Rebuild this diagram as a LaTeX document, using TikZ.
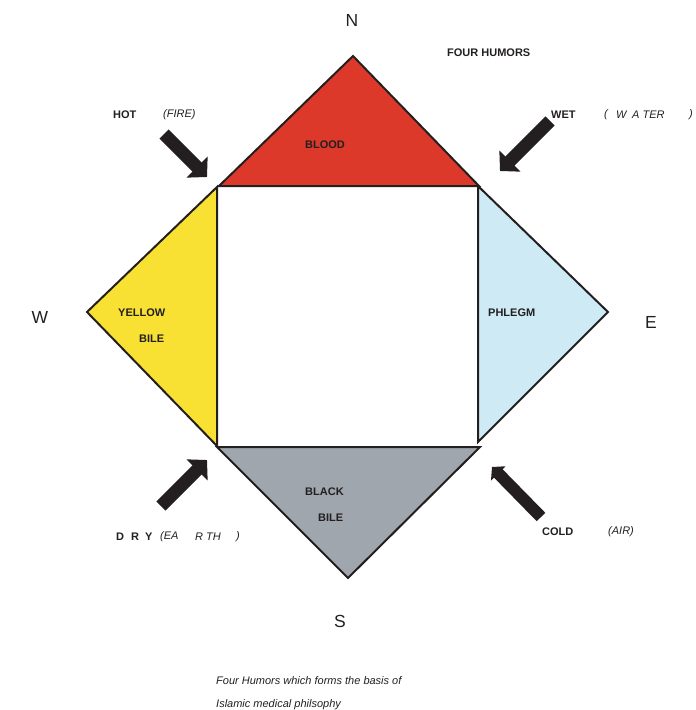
\documentclass[tikz,border=0pt]{standalone}
\usepackage{fontspec}
\setmainfont{Liberation Sans}
\usetikzlibrary{arrows.meta}
\definecolor{ink}{RGB}{35,31,32}
\definecolor{bloodred}{RGB}{221,57,42}
\definecolor{bileyellow}{RGB}{248,225,50}
\definecolor{phlegmblue}{RGB}{205,234,245}
\definecolor{blackgray}{RGB}{160,166,173}
\begin{document}
\begin{tikzpicture}[x={(1pt,0)},y={(0,-1pt)},
  lbl/.style={inner sep=0pt, anchor=west, text=ink, font=\fontsize{11}{13}\selectfont\bfseries},
  itl/.style={inner sep=0pt, anchor=west, text=ink, font=\fontsize{11}{13}\selectfont\itshape},
  compass/.style={inner sep=0pt, text=ink, font=\fontsize{17.5}{20}\selectfont},
  tri/.style={draw=ink, line width=2pt, line join=miter},
  blk/.style={draw=ink, line width=13pt, -{Triangle[length=14pt,width=29pt]}},
  blksmall/.style={draw=ink, line width=12pt, -{Triangle[length=9pt,width=20pt]}},
]
\useasboundingbox (0,0) rectangle (696,710);

% triangles
\draw[tri, fill=bloodred] (219,186) -- (353,56) -- (479,186) -- cycle;
\draw[tri, fill=bileyellow] (217,187) -- (87,312) -- (217,446) -- cycle;
\draw[tri, fill=phlegmblue] (478,186) -- (608,312) -- (478,442) -- cycle;
\draw[tri, fill=blackgray] (217,447) -- (348,578) -- (480,447) -- cycle;

% arrows
\coordinate (hotT) at (164,134); \coordinate (hotH) at (207,177);
\coordinate (wetT) at (550,121); \coordinate (wetH) at (500,171);
\coordinate (dryT) at (161,506); \coordinate (dryH) at (207,460);
\coordinate (coldT) at (541,517); \coordinate (coldH) at (492,467);
\draw[blk] (hotT) -- (hotH);
\draw[blk] (wetT) -- (wetH);
\draw[blk] (dryT) -- (dryH);
\draw[blksmall] (coldT) -- (coldH);

% compass letters
\node[compass] (N) at (352,20) {N};
\node[compass] (W) at (40,317) {W};
\node[compass] (E) at (651,322) {E};
\node[compass] (S) at (340,621) {S};

% title
\node[lbl] (title) at (447,53) {FOUR HUMORS};

% humors
\node[lbl] (blood) at (305,145) {BLOOD};
\node[lbl] (yellow) at (118,313) {YELLOW};
\node[lbl] (ybile) at (139,339) {BILE};
\node[lbl] (phlegm) at (488,313) {PHLEGM};
\node[lbl] (black) at (305,492) {BLACK};
\node[lbl] (bbile) at (318,518) {BILE};

% qualities
\node[lbl] (hot) at (113,115) {HOT};
\node[itl] (fire) at (163,115) {(FIRE)};
\node[lbl] (wet) at (551,115) {WET};
\node[itl] (wa) at (604,115) {(};
\node[itl] (wb) at (616,115) {W};
\node[itl] (wc) at (632,115) {A TER};
\node[itl] (wd) at (689,115) {)};
\node[lbl] (dd) at (116,537) {D};
\node[lbl] (dr) at (131,537) {R};
\node[lbl] (dy) at (145,537) {Y};
\node[itl] (ea) at (160,537) {(EA};
\node[itl] (rth) at (195,537) {R TH};
\node[itl] (eclose) at (236,537) {)};
\node[lbl] (cold) at (542,532) {COLD};
\node[itl] (air) at (608,532) {(AIR)};

% caption
\node[itl] (cap1) at (216,681) {Four Humors which forms the basis of};
\node[itl] (cap2) at (216,705) {Islamic medical philsophy};
\end{tikzpicture}
\end{document}
